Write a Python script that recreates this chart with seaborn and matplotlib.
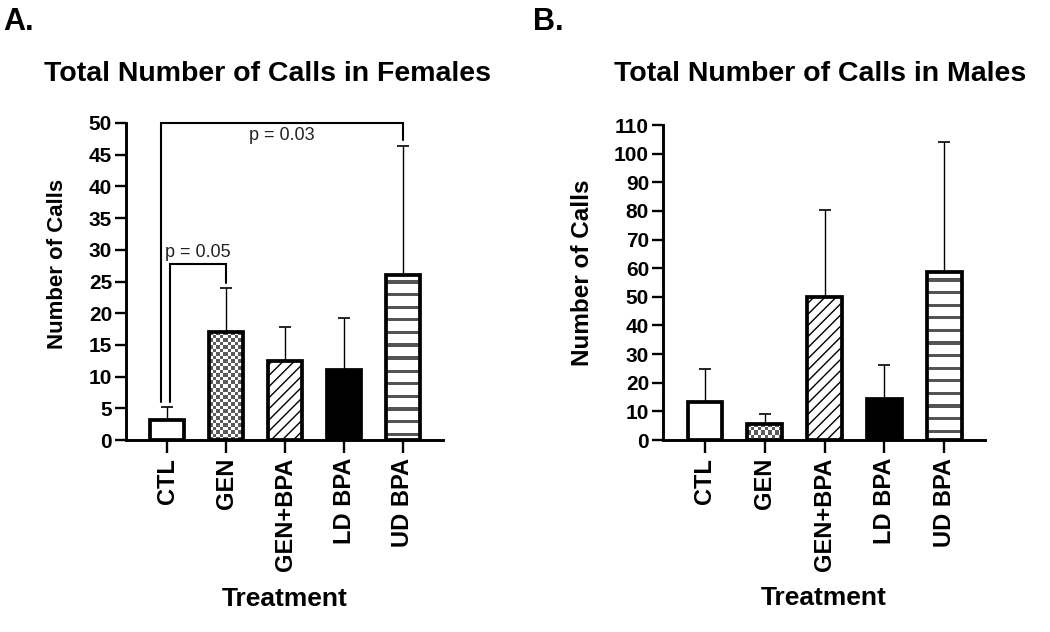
import numpy as np
import pandas as pd
import matplotlib
matplotlib.use("Agg")
import matplotlib.pyplot as plt
import seaborn as sns

# ---------------- data ----------------
categories = ["CTL", "GEN", "GEN+BPA", "LD BPA", "UD BPA"]
female_mean = [3.2, 17.1, 12.5, 11.0, 26.1]
female_sd = [2.0, 6.9, 5.3, 8.2, 20.2]
male_mean = [13.4, 5.6, 49.9, 14.4, 58.6]
male_sd = [11.3, 3.5, 30.4, 11.9, 45.3]
female_ticks = list(range(0, 51, 5))
male_ticks = list(range(0, 111, 10))

# significance brackets (panel A): left x, right x, top y, left foot y, right foot y
sig_left = [-0.1, 0.04]
sig_right = [4.0, 1.0]
sig_top = [50.0, 27.7]
sig_left_foot = [6.0, 6.0]
sig_right_foot = [47.3, 24.8]
sig_labels = ["p = 0.03", "p = 0.05"]
sig_label_above = [False, True]

# ---------------- style ----------------
sns.set_style("ticks")
plt.rcParams["font.family"] = ["Liberation Sans", "DejaVu Sans"]
plt.rcParams["hatch.linewidth"] = 1.0
for k in ["text.color", "axes.labelcolor", "xtick.color", "ytick.color",
          "axes.edgecolor"]:
    plt.rcParams[k] = "black"

W, H = 1050, 632
fig = plt.figure(figsize=(W / 100, H / 100), dpi=100)


def fx(px):
    return px / W


def fy(py):
    return 1 - py / H


axA = fig.add_axes([fx(126), fy(440), fx(443 - 126), (440 - 123) / H])
axB = fig.add_axes([fx(663), fy(440), fx(985 - 663), (440 - 125) / H])


def fill_image(ax, bar, kind):
    x0, y0 = bar.get_x(), bar.get_y()
    w, h = bar.get_width(), bar.get_height()
    d = ax.transData.transform([[x0, y0], [x0 + w, y0 + h]])
    wpx = max(int(round(abs(d[1, 0] - d[0, 0]))), 2)
    hpx = max(int(round(abs(d[1, 1] - d[0, 1]))), 2)
    rows = np.arange(hpx)[:, None]
    cols = np.arange(wpx)[None, :]
    img = np.ones((hpx, wpx, 3))
    if kind == "checker":
        cell = 3.5
        mask = (np.floor(rows / cell) + np.floor(cols / cell)) % 2 == 0
        mask = np.broadcast_to(mask, (hpx, wpx))
        img[mask] = [0.36, 0.36, 0.36]
    elif kind == "stripes":
        period = 12.6
        phase = (rows - 6) % period
        mask = np.broadcast_to((phase >= 0) & (phase < 3.2), (hpx, wpx))
        img[mask] = [0.33, 0.33, 0.33]
    im = ax.imshow(img, extent=(x0, x0 + w, y0, y0 + h), aspect="auto",
                   interpolation="nearest", origin="upper", zorder=2)
    im.set_clip_path(bar)
    bar.set_facecolor("none")
    bar.set_zorder(3)


def draw_panel(ax, means, sds, ticks, ymax):
    df = pd.DataFrame({"Treatment": categories, "Calls": means})
    sns.barplot(data=df, x="Treatment", y="Calls", ax=ax, color="white",
                edgecolor="black", linewidth=2.7, width=0.58, errorbar=None,
                saturation=1)
    bars = ax.patches
    for b in bars:
        b.set_facecolor("white")
        b.set_zorder(3)
    ax.errorbar(np.arange(len(categories)), means,
                yerr=[np.zeros(len(sds)), sds], fmt="none", ecolor="black",
                elinewidth=1.0, capsize=4.3, capthick=1.2, zorder=2.5)
    ax.set_xlim(-0.7, 4.68)
    ax.set_ylim(0, ymax)
    ax.set_yticks(ticks)
    ax.set_yticklabels([str(t) for t in ticks])
    bars[3].set_facecolor("black")
    bars[2].set_hatch("///")
    fill_image(ax, bars[1], "checker")
    fill_image(ax, bars[4], "stripes")
    ax.set_xlim(-0.7, 4.68)
    ax.set_ylim(0, ymax)

    for s in ["top", "right"]:
        ax.spines[s].set_visible(False)
    for s in ["left", "bottom"]:
        ax.spines[s].set_linewidth(2.1)
        ax.spines[s].set_color("black")
    ax.tick_params(axis="y", length=8, width=1.7, pad=2, labelsize=15,
                   direction="out", color="black", labelcolor="black")
    ax.tick_params(axis="x", length=9, width=1.7, pad=4, labelsize=17,
                   direction="out", color="black", labelcolor="black",
                   labelrotation=90)
    for lab in ax.get_yticklabels() + ax.get_xticklabels():
        lab.set_fontweight("bold")
    ax.set_xlabel("Treatment", fontsize=19, fontweight="bold", color="black")
    ax.xaxis.set_label_coords(0.5, -0.465)


draw_panel(axA, female_mean, female_sd, female_ticks, 50)
draw_panel(axB, male_mean, male_sd, male_ticks, 110)
axA.set_ylabel("Number of Calls", fontsize=16, fontweight="bold", color="black")
axB.set_ylabel("Number of Calls", fontsize=17.5, fontweight="bold", color="black")
axA.yaxis.set_label_coords(-0.183, 0.555)
axB.yaxis.set_label_coords(-0.215, 0.53)

# significance brackets
for xl, xr, yt, yfl, yfr, lab, above in zip(sig_left, sig_right, sig_top,
                                            sig_left_foot, sig_right_foot,
                                            sig_labels, sig_label_above):
    axA.plot([xl, xl, xr, xr], [yfl, yt, yt, yfr], color="black", lw=1.5,
             clip_on=False, zorder=4, solid_joinstyle="miter")
    if above:
        axA.text((xl + xr) / 2, yt + 0.6, lab, ha="center", va="bottom",
                 fontsize=13, color="#222222")
    else:
        axA.text((xl + xr) / 2, yt - 0.7, lab, ha="center", va="top",
                 fontsize=13, color="#222222")

# titles and panel letters
fig.text(fx(268), fy(74), "Total Number of Calls in Females", ha="center",
         va="center", fontsize=20.5, fontweight="bold", color="black")
fig.text(fx(820), fy(74), "Total Number of Calls in Males", ha="center",
         va="center", fontsize=20.5, fontweight="bold", color="black")
fig.text(fx(3), fy(7), "A.", ha="left", va="top", fontsize=22,
         fontweight="bold", color="black")
fig.text(fx(533), fy(7), "B.", ha="left", va="top", fontsize=22,
         fontweight="bold", color="black")

fig.savefig("out.png", dpi=100, facecolor="white")
